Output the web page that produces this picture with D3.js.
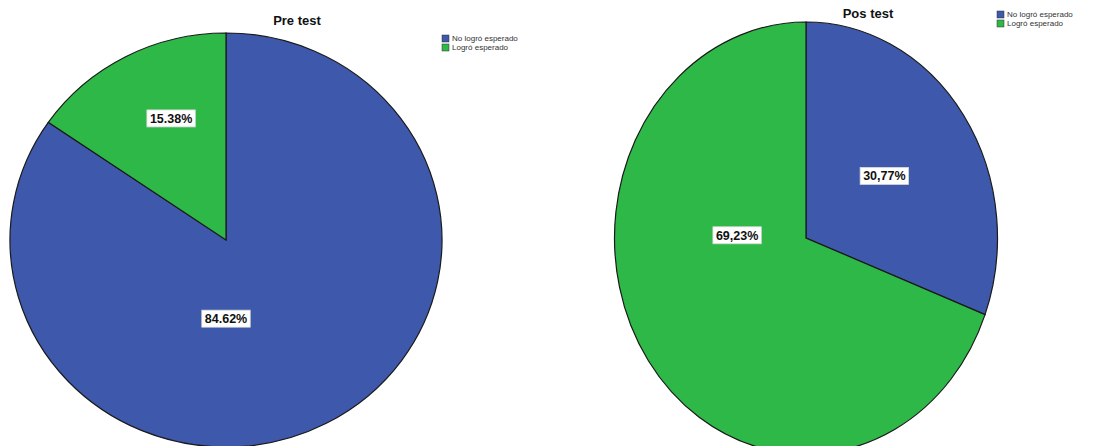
<!DOCTYPE html>
<html>
<head>
<meta charset="utf-8">
<script src="https://cdn.jsdelivr.net/npm/d3@7"></script>
<style>
  html, body { margin: 0; padding: 0; background: #fff; }
  svg { display: block; font-family: "Liberation Sans", Arial, sans-serif; }
</style>
</head>
<body>
<svg id="chart" width="1095" height="446"></svg>
<script>
// Categories and percentages for each test
const categories = ["No logró esperado", "Logró esperado"];
const preValues = [84.62, 15.38];
const posValues = [30.77, 69.23];
const titles = ["Pre test", "Pos test"];
const decimalMarks = [".", ","];

// Layout
const colors = ["#3e58ac", "#2eb848"];
const pies = [
  { cx: 226, cy: 240, rx: 216, ry: 207, titleX: 297, titleY: 25, legendX: 442, legendY: 35,
    labelPolar: [[180, 0.38], [-23.4, 0.64]] },
  { cx: 806, cy: 238, rx: 191.5, ry: 216, titleX: 868, titleY: 18, legendX: 997, legendY: 11,
    labelPolar: [[54.9, 0.50], [-88, 0.36]] }
];

const svg = d3.select("#chart");
const pie = d3.pie().sort(null).value(d => d);
const color = d3.scaleOrdinal().domain(categories).range(colors);

function drawPie(values, title, mark, L) {
  const g = svg.append("g").attr("transform", `translate(${L.cx},${L.cy})`);
  const arc = d3.arc().innerRadius(0).outerRadius(L.ry);
  const squash = g.append("g").attr("transform", `scale(${L.rx / L.ry},1)`);
  const arcs = pie(values);

  squash.selectAll("path").data(arcs).join("path")
    .attr("d", arc)
    .attr("fill", (d, i) => color(categories[i]))
    .attr("stroke", "#1a1a1a")
    .attr("stroke-width", 1.2)
    .attr("vector-effect", "non-scaling-stroke");

  // Percentage labels in white boxes
  arcs.forEach((d, i) => {
    const [ang, f] = L.labelPolar[i];
    const a = ang * Math.PI / 180;
    const x = L.rx * f * Math.sin(a);
    const y = -L.ry * f * Math.cos(a);
    const txt = values[i].toFixed(2).replace(".", mark) + "%";
    const lg = g.append("g").attr("transform", `translate(${x},${y})`);
    const rect = lg.append("rect").attr("fill", "#fff").attr("stroke", "#d8d8d8").attr("stroke-width", 0.8);
    const t = lg.append("text")
      .attr("text-anchor", "middle")
      .attr("dy", "0.36em")
      .attr("font-size", 12.5)
      .attr("font-weight", "bold")
      .attr("fill", "#111")
      .text(txt);
    const bb = t.node().getBBox();
    rect.attr("x", bb.x - 3).attr("y", -8.5).attr("width", bb.width + 6).attr("height", 17);
  });

  // Title
  svg.append("text")
    .attr("x", L.titleX).attr("y", L.titleY)
    .attr("text-anchor", "middle")
    .attr("font-size", 13)
    .attr("font-weight", "bold")
    .attr("fill", "#111")
    .text(title);

  // Legend
  const leg = svg.append("g").attr("transform", `translate(${L.legendX},${L.legendY})`);
  categories.forEach((c, i) => {
    leg.append("rect")
      .attr("x", 0).attr("y", i * 9)
      .attr("width", 7).attr("height", 7)
      .attr("fill", color(c))
      .attr("stroke", "#333").attr("stroke-width", 0.5);
    leg.append("text")
      .attr("x", 10).attr("y", i * 9 + 6)
      .attr("font-size", 8)
      .attr("fill", "#333")
      .text(c);
  });
}

drawPie(preValues, titles[0], decimalMarks[0], pies[0]);
drawPie(posValues, titles[1], decimalMarks[1], pies[1]);
</script>
</body>
</html>
